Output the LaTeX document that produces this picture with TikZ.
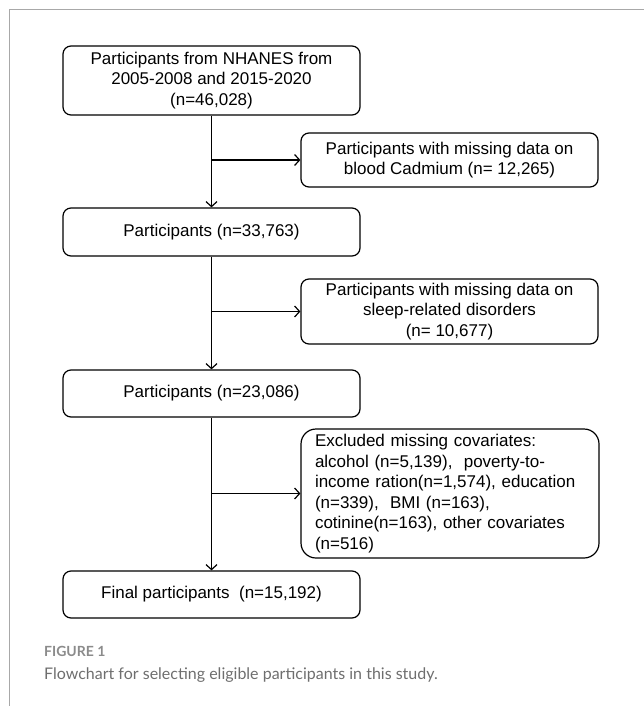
\documentclass[tikz,border=0pt]{standalone}
\usepackage{fontspec}
\setmainfont{Liberation Sans}
\newfontfamily\capfont{Lato}
\usepackage{xcolor}
\usetikzlibrary{arrows.meta}
\definecolor{framegray}{HTML}{A8A8A8}
\definecolor{capgray}{HTML}{6E6E6E}

\begin{document}
\begin{tikzpicture}[x=1pt, y=-1pt,
  box/.style={draw, line width=1.2pt, rounded corners=8pt, inner sep=0pt,
    minimum width=297pt, align=center, font=\fontsize{17}{20.5}\selectfont},
  link/.style={-{Straight Barb[length=5pt, width=11pt]}, line width=1.2pt}]
\useasboundingbox (0, 0) rectangle (644, 706);
% frame
\draw[framegray, line width=1.5pt] (644, 9.3) -- (9.3, 9.3) -- (9.3, 706);
% main column
\node[box, minimum height=69pt] (p0) at (211.5, 80.5) {Participants from NHANES from\\2005-2008 and 2015-2020\\(n=46,028)};
\node[box, minimum height=48pt] (p1) at (211.5, 232) {Participants (n=33,763)};
\node[box, minimum height=47pt] (p2) at (211.5, 393.5) {Participants (n=23,086)};
\node[box, minimum height=47pt] (p3) at (211.5, 594.5) {Final participants\ \ (n=15,192)};
% excluded
\node[box, minimum height=54pt] (x1) at (449.5, 160) {Participants with missing data on\\blood Cadmium (n= 12,265)};
\node[box, minimum height=65pt] (x2) at (449.5, 311.5) {Participants with missing data on\\sleep-related disorders\\(n= 10,677)};
\node[box, minimum height=129pt, minimum width=298pt, rounded corners=15pt, align=left,
  text width=270pt] (x3) at (450, 493.5) {Excluded missing covariates:\\alcohol (n=5,139),\ \ poverty-to-\\income ration(n=1,574), education\\(n=339),\ \ BMI (n=163),\\cotinine(n=163), other covariates\\(n=516)};
% arrows
\draw[link] (p0) -- (p1);
\draw[link] (p1) -- (p2);
\draw[link] (p2) -- (p3);
\coordinate (b1) at (p0.south |- x1.west);
\coordinate (b2) at (p0.south |- x2.west);
\coordinate (b3) at (p0.south |- x3.west);
\draw[link] (b1) -- (x1.west);
\draw[link] (b2) -- (x2.west);
\draw[link] (b3) -- (x3.west);
%Text
\node[anchor=base west, inner sep=0pt, font=\capfont\bfseries\fontsize{14}{16}\selectfont, text=capgray!80] (fig) at (44, 656.7) {FIGURE 1};
\node[anchor=base west, inner sep=0pt, font=\capfont\fontsize{16}{19}\selectfont, text=capgray] (cap) at (44, 679) {Flowchart for selecting eligible participants in this study.};
\end{tikzpicture}
\end{document}
